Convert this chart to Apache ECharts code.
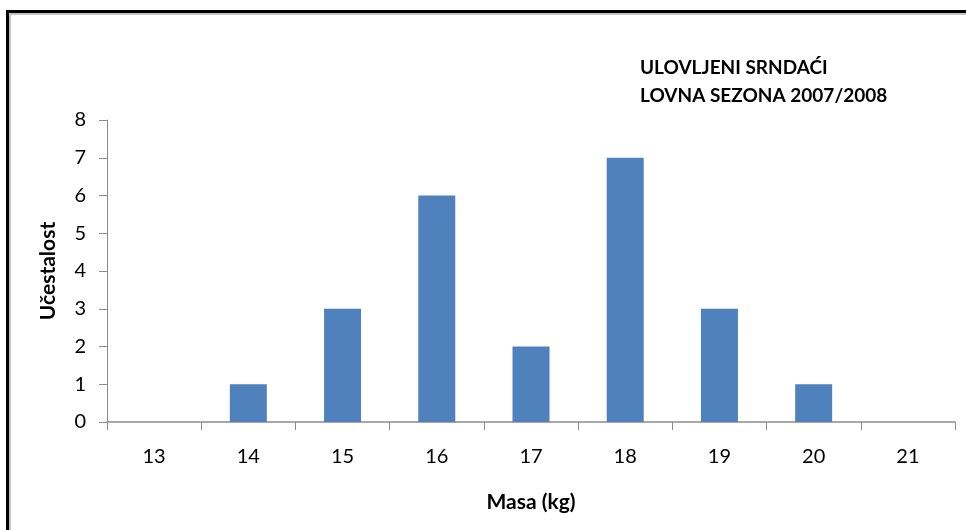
<!DOCTYPE html>
<html><head><meta charset="utf-8">
<script src="https://cdn.jsdelivr.net/npm/echarts@6/dist/echarts.min.js"></script>
<style>html,body{margin:0;padding:0;background:#fff}#c{width:966px;height:530px}</style>
</head><body><div id="c"></div>
<script>
const categories = ['13','14','15','16','17','18','19','20','21'];
const values = [0,1,3,6,2,7,3,1,0];
const yTicks = [0,1,2,3,4,5,6,7,8];
const titleLines = ['ULOVLJENI SRNDAĆI','LOVNA SEZONA 2007/2008'];

const chart = echarts.init(document.getElementById('c'));
const font = 'Lato, "Open Sans", sans-serif';
const axisColor = '#8c8c8c';
chart.setOption({
  animation:false,
  graphic:[
    {type:'rect',shape:{x:7.5,y:11.5,width:1000,height:600},style:{fill:'none',stroke:'#000',lineWidth:3},silent:true},
    {type:'rect',shape:{x:10,y:14,width:1000,height:600},style:{fill:'none',stroke:'#b0b0b0',lineWidth:1.5},silent:true},
    {type:'text',left:640,top:54,style:{text:titleLines.join('\n'),font:'bold 19px '+font,fill:'#000',lineHeight:28}}
  ],
  grid:{left:107,right:11,top:120,bottom:108},
  xAxis:{type:'category',data:categories,boundaryGap:true,
    name:'Masa (kg)',nameLocation:'middle',nameGap:70,
    nameTextStyle:{fontFamily:font,fontWeight:'bold',fontSize:21,color:'#000'},
    axisLine:{lineStyle:{color:axisColor,width:1.5}},
    axisTick:{show:true,length:8,lineStyle:{color:axisColor}},
    axisLabel:{fontFamily:font,fontSize:20,color:'#000',margin:25}},
  yAxis:{type:'value',min:yTicks[0],max:yTicks[yTicks.length-1],interval:1,
    name:'Učestalost',nameLocation:'middle',nameGap:48,
    nameTextStyle:{fontFamily:font,fontWeight:'bold',fontSize:21,color:'#000'},
    axisLine:{show:true,lineStyle:{color:axisColor,width:1}},
    axisTick:{show:true,length:8,lineStyle:{color:axisColor}},
    splitLine:{show:false},
    axisLabel:{fontFamily:font,fontSize:20,color:'#000',margin:21}},
  series:[{type:'bar',data:values,barWidth:37,itemStyle:{color:'#4F81BD'}}]
});
</script></body></html>
